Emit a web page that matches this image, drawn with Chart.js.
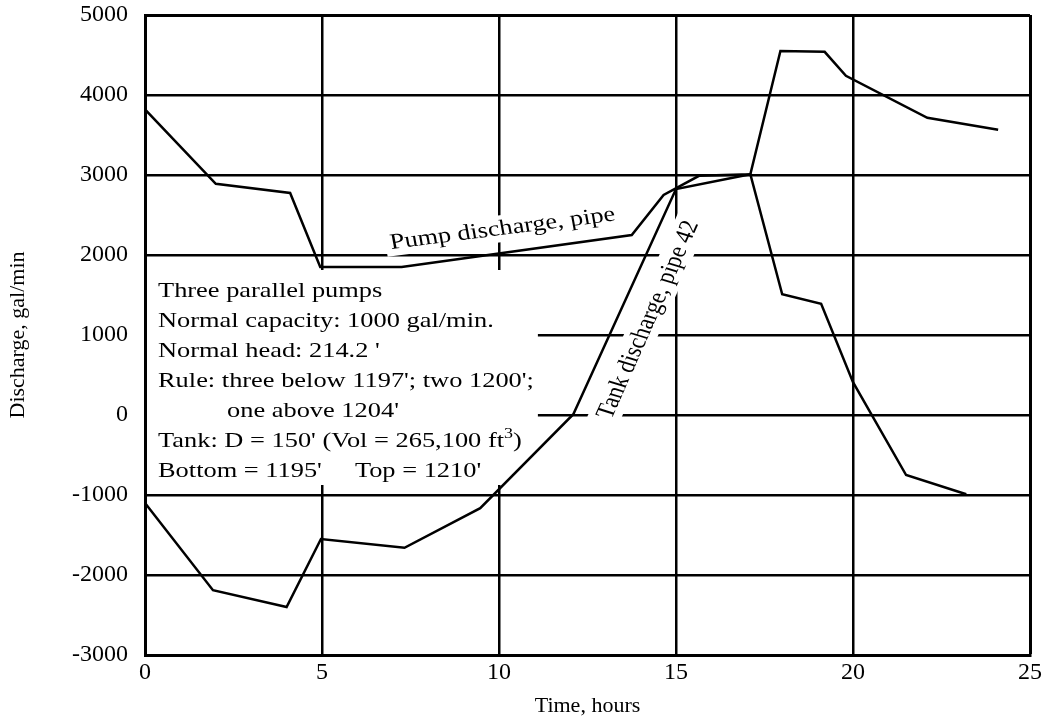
<!DOCTYPE html>
<html><head><meta charset="utf-8">
<script src="https://cdn.jsdelivr.net/npm/chart.js@4.4.0/dist/chart.umd.min.js"></script>
<style>html,body{margin:0;padding:0;background:#fff;}canvas{display:block;}</style>
</head><body>
<canvas id="c" width="1053" height="724"></canvas>
<script>
const xTicks = [0, 5, 10, 15, 20, 25];
const yTicks = [-3000, -2000, -1000, 0, 1000, 2000, 3000, 4000, 5000];

const pumpHours = [0, 2.0, 4.1, 4.95, 7.25, 13.75, 14.65, 15.65, 17.1, 17.95, 19.2, 19.8, 22.1, 24.1];
const pumpFlow  = [3820, 2890, 2775, 1850, 1850, 2250, 2750, 2990, 3010, 4550, 4540, 4240, 3715, 3565];

const tankHours = [0, 1.92, 4.0, 4.97, 7.33, 9.47, 12.1, 15.0, 17.1, 18.0, 19.1, 20.0, 21.5, 23.2];
const tankFlow  = [-1100, -2190, -2400, -1550, -1660, -1165, 10, 2825, 3010, 1510, 1390, 410, -750, -990];

const xTitle = 'Time, hours';
const yTitle = 'Discharge, gal/min';
const pumpLabel = 'Pump discharge, pipe';
const tankLabel = 'Tank discharge, pipe 42';
const noteLines = [
  ['Three parallel pumps'],
  ['Normal capacity: 1000 gal/min.'],
  ["Normal head: 214.2 '"],
  ["Rule: three below 1197'; two 1200';"],
  ["one above 1204'"],
  ["Tank: D = 150' (Vol = 265,100 ft", '^3', ')'],
  ["Bottom = 1195'     Top = 1210'"]
];

const FAMILY = '"Liberation Serif", "Times New Roman", Times, serif';
const SX = 1.2;

function drawRotated(ctx, text, cx, cy, angleDeg) {
  const phi = angleDeg * Math.PI / 180;
  const th = Math.atan2(Math.sin(phi), Math.cos(phi) / SX);
  ctx.save();
  ctx.translate(cx, cy);
  ctx.scale(SX, 1);
  ctx.rotate(th);
  ctx.font = '22px ' + FAMILY;
  const w = ctx.measureText(text).width;
  ctx.fillStyle = '#fff';
  ctx.fillRect(-w / 2 - 4, -14, w + 8, 27);
  ctx.fillStyle = '#000';
  ctx.textAlign = 'center';
  ctx.textBaseline = 'middle';
  ctx.fillText(text, 0, 0);
  ctx.restore();
}

const notesPlugin = {
  id: 'notes',
  beforeDatasetsDraw(chart) {
    const {ctx, chartArea: a, scales: {x, y}} = chart;
    ctx.save();
    const left = a.left + 13;
    const firstBase = a.top + 282;
    const lineH = 30;
    const indents = [0, 0, 0, 0, 69, 0, 0];
    let maxRight = 0;
    noteLines.forEach((parts, i) => {
      let w = 0;
      parts.forEach(p => {
        if (p.startsWith('^')) { ctx.font = '15px ' + FAMILY; w += ctx.measureText(p.slice(1)).width; }
        else { ctx.font = '22px ' + FAMILY; w += ctx.measureText(p).width; }
      });
      maxRight = Math.max(maxRight, left + indents[i] + w * SX);
    });
    const boxTop = firstBase - 27;
    const boxBottom = firstBase + lineH * (noteLines.length - 1) + 8;
    ctx.fillStyle = '#fff';
    ctx.fillRect(a.left + 2, boxTop, maxRight + 4 - (a.left + 2), boxBottom - boxTop);
    ctx.fillStyle = '#000';
    ctx.textBaseline = 'alphabetic';
    noteLines.forEach((parts, i) => {
      ctx.save();
      ctx.translate(left + indents[i], firstBase + i * lineH);
      ctx.scale(SX, 1);
      let cur = 0;
      parts.forEach(p => {
        if (p.startsWith('^')) {
          ctx.font = '15px ' + FAMILY;
          ctx.fillText(p.slice(1), cur, -9);
          cur += ctx.measureText(p.slice(1)).width;
        } else {
          ctx.font = '22px ' + FAMILY;
          ctx.fillText(p, cur, 0);
          cur += ctx.measureText(p).width;
        }
      });
      ctx.restore();
    });
    drawRotated(ctx, pumpLabel, x.getPixelForValue(10.1), y.getPixelForValue(2325), -7.3);
    drawRotated(ctx, tankLabel, x.getPixelForValue(14.22), y.getPixelForValue(1190), -66);
    ctx.restore();
  }
};

const tickFont = {family: FAMILY, size: 24};
const titleFont = {family: FAMILY, size: 22};

new Chart(document.getElementById('c'), {
  type: 'line',
  data: {
    datasets: [
      {label: 'Pump discharge', data: pumpHours.map((h, i) => ({x: h, y: pumpFlow[i]})),
       borderColor: '#000', borderWidth: 2.5, pointRadius: 0, tension: 0, fill: false},
      {label: 'Tank discharge', data: tankHours.map((h, i) => ({x: h, y: tankFlow[i]})),
       borderColor: '#000', borderWidth: 2.5, pointRadius: 0, tension: 0, fill: false}
    ]
  },
  options: {
    responsive: false, animation: false, devicePixelRatio: 1,
    layout: {padding: {top: 15, right: 23, bottom: 0, left: 0}},
    plugins: {legend: {display: false}, tooltip: {enabled: false}},
    scales: {
      x: {
        type: 'linear', min: 0, max: 25,
        afterBuildTicks: s => { s.ticks = xTicks.map(v => ({value: v})); },
        afterFit: s => { s.height = 69; s.paddingLeft = 0; s.paddingRight = 0; },
        grid: {color: '#000', lineWidth: c => (c.tick && c.tick.value === 25 ? 3 : 2.5), drawTicks: false},
        border: {color: '#000', width: 3},
        ticks: {color: '#000', font: tickFont, padding: 3, maxRotation: 0, autoSkip: false, callback: v => String(v)},
        title: {display: true, text: xTitle, color: '#000', font: titleFont, padding: {top: 0, bottom: 5}}
      },
      y: {
        type: 'linear', min: -3000, max: 5000,
        afterBuildTicks: s => { s.ticks = yTicks.map(v => ({value: v})); },
        afterFit: s => { s.width = 145; s.paddingTop = 0; s.paddingBottom = 0; },
        grid: {color: '#000', lineWidth: c => (c.tick && c.tick.value === 5000 ? 3 : 2.5), drawTicks: false},
        border: {color: '#000', width: 3},
        ticks: {color: '#000', font: tickFont, padding: 17, autoSkip: false, callback: v => String(v)},
        title: {display: true, text: yTitle, color: '#000', font: titleFont, padding: {top: 5, bottom: 0}}
      }
    }
  },
  plugins: [notesPlugin]
});
</script>
</body></html>
